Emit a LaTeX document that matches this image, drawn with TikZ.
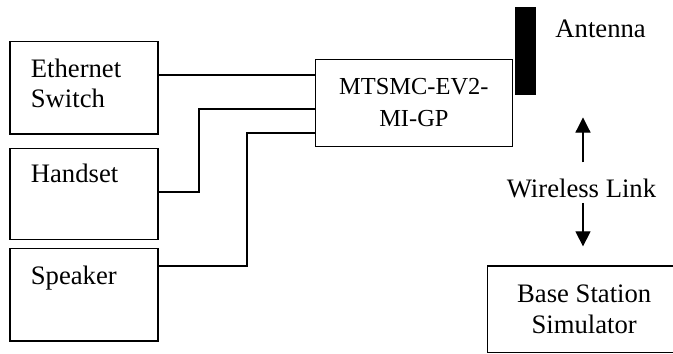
\documentclass[tikz,border=0pt]{standalone}
\usepackage{fontspec}
\setmainfont{Liberation Serif}
\usetikzlibrary{calc,arrows.meta,positioning}
\newcommand{\pxu}{0.45pt}

\begin{document}
\begin{tikzpicture}[
  x=0.45pt, y=-0.45pt,
  every node/.style={font=\fontsize{12}{13.8}\selectfont},
  unit/.style={draw, line width=0.5pt, rectangle, inner sep=0pt},
  txt/.style={anchor=base west, align=left, text width=110*\pxu, inner sep=0pt},
  link/.style={draw, line width=0.5pt},
  arr/.style={line width=0.5pt, -{Triangle[length=6.8pt, width=6.8pt]}}
]
\clip (0,0) rectangle (673,354);
% left units
\node[unit, minimum width=148*\pxu, minimum height=92.5*\pxu] (eth) at (84,87.75) {};
\node[unit, minimum width=148*\pxu, minimum height=91.2*\pxu] (hand) at (84,193.9) {};
\node[unit, minimum width=148*\pxu, minimum height=92.7*\pxu] (spk) at (84,294.65) {};
\node[txt] (ethtxt) at ([shift={(21,36.2)}]eth.north west) {Ethernet\\Switch};
\node[txt] (handtxt) at ([shift={(21,34.6)}]hand.north west) {Handset};
\node[txt] (spktxt) at ([shift={(21,36.5)}]spk.north west) {Speaker};
% module and antenna
\node[unit, minimum width=196.8*\pxu, minimum height=86.8*\pxu, align=center,
  font=\fontsize{11}{14.3}\selectfont] (mod) at (413.9,102.9) {MTSMC-EV2-\\MI-GP};
\node[fill=black, inner sep=0pt, minimum width=20.7*\pxu, minimum height=87.7*\pxu] (ant) at (525.3,51.2) {};
\node[anchor=base west, inner sep=0pt] (anttxt) at (555,37.3) {Antenna};
% wireless side
\node[anchor=base, inner sep=0pt] (wl) at (581.5,197.3) {Wireless Link};
\node[unit, minimum width=193.7*\pxu, minimum height=86.7*\pxu, align=center] (base) at (584.2,309.4) {Base Station\\Simulator};
% cables
\draw[link] (eth.east |- 0,75) -- (mod.west |- 0,75);
\draw[link] (hand.east |- 0,192) -| (199,109) -- (mod.west |- 0,109);
\draw[link] (spk.east |- 0,266) -| (247,133) -- (mod.west |- 0,133);
% radio link
\draw[arr, shorten <=7.2pt, shorten >=9.9pt] ([xshift=1.5*\pxu]wl.north) -- ([xshift=1.5*\pxu]wl.north |- ant.south);
\draw[arr, shorten <=2.1pt, shorten >=8.6pt] ([xshift=1.5*\pxu]wl.south) -- ([xshift=1.5*\pxu]wl.south |- base.north);
\end{tikzpicture}
\end{document}
